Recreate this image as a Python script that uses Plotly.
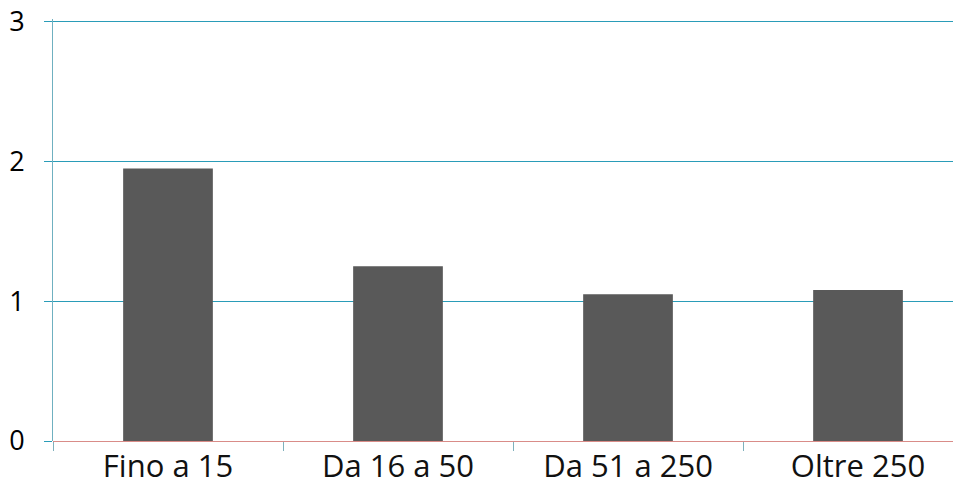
import plotly.graph_objects as go

categories = ["Fino a 15", "Da 16 a 50", "Da 51 a 250", "Oltre 250"]
values = [1.95, 1.25, 1.05, 1.08]
y_ticks = [0, 1, 2, 3]

GRID = "#2a9cb8"
BASE = "#d98c88"
BAR = "#595959"

fig = go.Figure(
    go.Bar(
        x=categories,
        y=values,
        marker={"color": BAR, "line": {"width": 0}},
        width=0.39,
    )
)
fig.update_layout(
    width=953,
    height=495,
    paper_bgcolor="#ffffff",
    plot_bgcolor="#ffffff",
    showlegend=False,
    margin={"l": 53, "r": 0, "t": 19, "b": 54},
    font={"family": "Open Sans, sans-serif", "color": "#111111", "size": 28},
)
fig.update_xaxes(
    range=[-0.5, 3.413],
    automargin=False,
    showgrid=False,
    showline=False,
    ticks="outside",
    tickson="boundaries",
    ticklen=9,
    tickcolor="#7fb0bc",
    ticklabelstandoff=4,
    tickfont={"size": 31},
    zeroline=False,
)
fig.update_yaxes(
    range=[0, 3.02],
    automargin=False,
    tickvals=y_ticks,
    showgrid=True,
    gridcolor=GRID,
    gridwidth=1.2,
    showline=True,
    linecolor="#6fb0c0",
    ticks="outside",
    ticklen=8,
    tickcolor=GRID,
    ticklabelstandoff=14,
    zeroline=True,
    zerolinecolor=BASE,
    zerolinewidth=1.2,
    tickfont={"size": 27, "color": "#000000"},
)
# drop the default body margin so the figure fills the window
fig.write_html(
    "out.html",
    config={"displayModeBar": False},
    post_script="document.body.style.margin='0';",
)
